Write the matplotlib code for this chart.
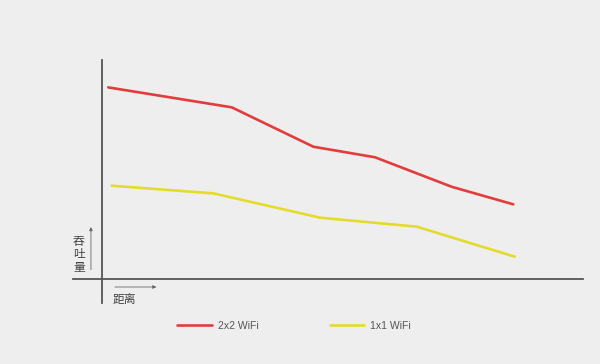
import matplotlib.pyplot as plt

plt.rcParams['font.family'] = ['Noto Sans CJK SC', 'DejaVu Sans']

# relative distance (0-100) and throughput (0-100)
dist_2x2 = [1.2, 26.9, 43.9, 56.7, 72.7, 85.5]
tput_2x2 = [87.5, 78.4, 60.4, 55.6, 42.1, 34.1]
dist_1x1 = [1.9, 23.1, 45.3, 65.4, 85.8]
tput_1x1 = [42.6, 39.1, 28.0, 23.9, 10.2]
series_labels = ['2x2 WiFi', '1x1 WiFi']

bg = '#eeeeee'
fig = plt.figure(figsize=(6, 3.64), dpi=100, facecolor=bg)
ax = fig.add_axes([0.1708, 0.2335, 0.8008, 0.6016])
ax.set_facecolor(bg)
ax.set_xlim(0, 100)
ax.set_ylim(0, 100)
for s in ax.spines.values():
    s.set_visible(False)
ax.set_xticks([])
ax.set_yticks([])

ax.plot(dist_2x2, tput_2x2, color='#e23c3c', lw=1.9, label=series_labels[0],
        solid_capstyle='round')
ax.plot(dist_1x1, tput_1x1, color='#e4dc2c', lw=1.9, label=series_labels[1],
        solid_capstyle='round')

# hand-drawn style axes lines, overshooting each other
axc = '#555555'
ax.plot([0, 0], [-0.11, 1.0], transform=ax.transAxes, color=axc, lw=1.3,
        clip_on=False)
ax.plot([-0.061, 1.0], [0, 0], transform=ax.transAxes, color=axc, lw=1.3,
        clip_on=False)

# small arrows with axis names
ax.annotate('', xy=(-0.024, 0.25), xytext=(-0.024, 0.03),
            xycoords='axes fraction',
            arrowprops=dict(arrowstyle='-|>', color='#666666', lw=0.6,
                            mutation_scale=5))
ax.annotate('', xy=(0.118, -0.0365), xytext=(0.02, -0.0365),
            xycoords='axes fraction',
            arrowprops=dict(arrowstyle='-|>', color='#666666', lw=0.6,
                            mutation_scale=5))
ax.text(-0.049, 0.114, '吞\n吐\n量', transform=ax.transAxes, ha='center',
        va='center', fontsize=8.5, color='#444444', linespacing=1.0)
ax.text(0.021, -0.093, '距离', transform=ax.transAxes, ha='left',
        va='center', fontsize=8.5, color='#444444')

leg = ax.legend(loc='center left', bbox_to_anchor=(0.28, 0.105),
                bbox_transform=fig.transFigure, ncol=2, frameon=False,
                prop={'family': 'Liberation Sans', 'size': 7.5},
                handlelength=3.3, columnspacing=6.8, handletextpad=0.6)
for t in leg.get_texts():
    t.set_color('#555555')

fig.savefig('out.png', dpi=100, facecolor=bg)
